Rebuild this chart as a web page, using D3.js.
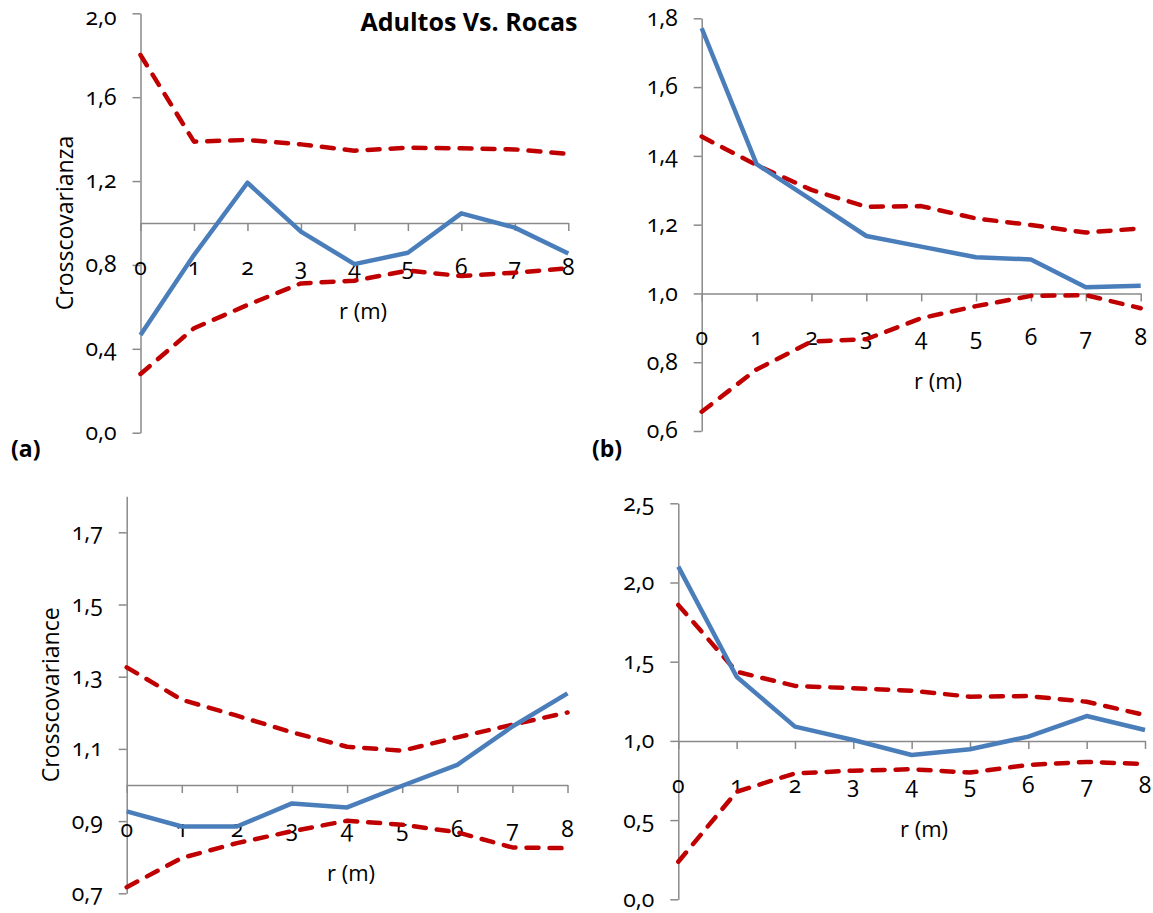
<!DOCTYPE html>
<html><head><meta charset="utf-8">
<script src="https://cdn.jsdelivr.net/npm/d3@7"></script>
<style>
html,body{margin:0;padding:0;background:#fff;}
svg text{font-family:"Open Sans","Lato",sans-serif;font-variant-numeric:oldstyle-nums;fill:#000;}
</style></head>
<body>
<svg id="chart" width="1153" height="913"></svg>
<script>
const rValues = [0,1,2,3,4,5,6,7,8];

// Panel (a)
const aObserved = [0.466,0.847,1.192,0.959,0.804,0.858,1.046,0.978,0.855];
const aUpper    = [1.801,1.388,1.396,1.375,1.345,1.359,1.356,1.351,1.329];
const aLower    = [0.280,0.498,0.609,0.712,0.725,0.773,0.747,0.763,0.784];
const aTicks    = [0.0,0.4,0.8,1.2,1.6,2.0];

// Panel (b)
const bObserved = [1.771,1.376,1.272,1.167,1.136,1.105,1.099,1.018,1.022];
const bUpper    = [1.456,1.373,1.301,1.252,1.254,1.218,1.199,1.177,1.189];
const bLower    = [0.656,0.779,0.860,0.867,0.928,0.963,0.993,0.995,0.957];
const bTicks    = [0.6,0.8,1.0,1.2,1.4,1.6,1.8];

// Panel (c)
const cObserved = [0.927,0.885,0.885,0.949,0.938,0.998,1.056,1.162,1.254];
const cUpper    = [1.326,1.236,1.192,1.146,1.106,1.095,1.132,1.167,1.201];
const cLower    = [0.717,0.798,0.839,0.872,0.901,0.890,0.869,0.827,0.825];
const cTicks    = [0.7,0.9,1.1,1.3,1.5,1.7];

// Panel (d)
const dObserved = [2.10,1.405,1.090,1.006,0.911,0.947,1.027,1.157,1.069];
const dUpper    = [1.858,1.437,1.347,1.332,1.317,1.279,1.283,1.247,1.163];
const dLower    = [0.237,0.679,0.795,0.812,0.821,0.800,0.848,0.867,0.854];
const dTicks    = [0.0,0.5,1.0,1.5,2.0,2.5];

const titleText = "Adultos Vs. Rocas";
const xTitle = "r (m)";

const svg = d3.select("#chart");
const fmt = v => d3.format(".1f")(v).replace(".", ",");

const panels = [
  {obs:aObserved, up:aUpper, lo:aLower, ticks:aTicks, domain:[0,2.0], x0:140.5, x1:568.3, yBot:432.7, yTop:13.3,
   tag:"(a)", tagX:11, tagY:457, yTitle:"Crosscovarianza", yTitleX:73, xTitleX:363},
  {obs:bObserved, up:bUpper, lo:bLower, ticks:bTicks, domain:[0.6,1.8], x0:701.7, x1:1140.7, yBot:431, yTop:18.3,
   tag:"(b)", tagX:592, tagY:457, yTitle:null, xTitleX:938},
  {obs:cObserved, up:cUpper, lo:cLower, ticks:cTicks, domain:[0.7,1.8], x0:126.7, x1:567.5, yBot:893.3, yTop:496.2,
   tag:null, yTitle:"Crosscovariance", yTitleX:59, xTitleX:351},
  {obs:dObserved, up:dUpper, lo:dLower, ticks:dTicks, domain:[0,2.5], x0:678.3, x1:1145, yBot:899.3, yTop:503.3,
   tag:null, yTitle:null, xTitleX:924}
];

const axisColor = "#8a8a8a";
const tickFont = 23;

panels.forEach(p => {
  const x = d3.scaleLinear().domain([0,8]).range([p.x0,p.x1]);
  const y = d3.scaleLinear().domain(p.domain).range([p.yBot,p.yTop]);
  const g = svg.append("g");
  const y1 = y(1.0);

  // vertical axis
  const yAxis = d3.axisLeft(y).tickValues(p.ticks).tickSize(8).tickPadding(16).tickFormat(fmt).tickSizeOuter(0);
  const ya = g.append("g").attr("transform",`translate(${p.x0},0)`).call(yAxis);
  ya.select(".domain").attr("stroke",axisColor).attr("stroke-width",1.5);
  ya.selectAll(".tick line").attr("stroke",axisColor).attr("stroke-width",1.5);
  ya.selectAll(".tick text").attr("font-size",tickFont)
    .attr("dy", d => {
      // keep the label's box inside the picture at the very top
      const base = y(d) + 0.3*tickFont;
      const minBase = 1.08*tickFont;
      return (base < minBase ? (minBase - y(d)) : 0.3*tickFont) + "px";
    })
    .style("font-family",'"Open Sans",sans-serif');

  // horizontal axis crossing at 1.0
  const xAxis = d3.axisBottom(x).tickValues(rValues).tickSize(8).tickFormat("").tickSizeOuter(0);
  const xa = g.append("g").attr("transform",`translate(0,${y1})`).call(xAxis);
  xa.select(".domain").attr("stroke",axisColor).attr("stroke-width",1.5);
  xa.selectAll(".tick line").attr("stroke",axisColor).attr("stroke-width",1.5);

  // x tick labels placed lower (Excel offset)
  g.selectAll(".xlab").data(rValues).enter().append("text")
    .attr("x",d=>x(d)).attr("y",y1+52)
    .attr("text-anchor","middle").attr("font-size",tickFont).text(d=>d);

  // x title
  g.append("text").attr("x",p.xTitleX).attr("y",y1+96).attr("text-anchor","middle")
    .attr("font-size",22).text(xTitle);

  // y title
  if (p.yTitle) {
    const cy = (p.yBot+p.yTop)/2;
    g.append("text").attr("transform",`translate(${p.yTitleX},${cy}) rotate(-90)`)
      .attr("text-anchor","middle").attr("font-size",23).text(p.yTitle);
  }
  if (p.tag) {
    g.append("text").attr("x",p.tagX).attr("y",p.tagY).attr("font-size",23)
      .attr("font-weight","bold").text(p.tag);
  }

  const line = d3.line().x((d,i)=>x(rValues[i])).y(d=>y(d));
  g.append("path").datum(p.up).attr("d",line).attr("fill","none")
    .attr("stroke","#C00000").attr("stroke-width",4.5).attr("stroke-dasharray","12,11")
    .attr("stroke-linecap","round").attr("stroke-linejoin","round");
  g.append("path").datum(p.lo).attr("d",line).attr("fill","none")
    .attr("stroke","#C00000").attr("stroke-width",4.5).attr("stroke-dasharray","12,11")
    .attr("stroke-linecap","round").attr("stroke-linejoin","round");
  g.append("path").datum(p.obs).attr("d",line).attr("fill","none")
    .attr("stroke","#4A7EBB").attr("stroke-width",4.5).attr("stroke-linejoin","round");
});

svg.append("text").attr("x",469).attr("y",31).attr("text-anchor","middle")
  .attr("font-size",25).attr("font-weight","bold").text(titleText);
</script>
</body></html>
